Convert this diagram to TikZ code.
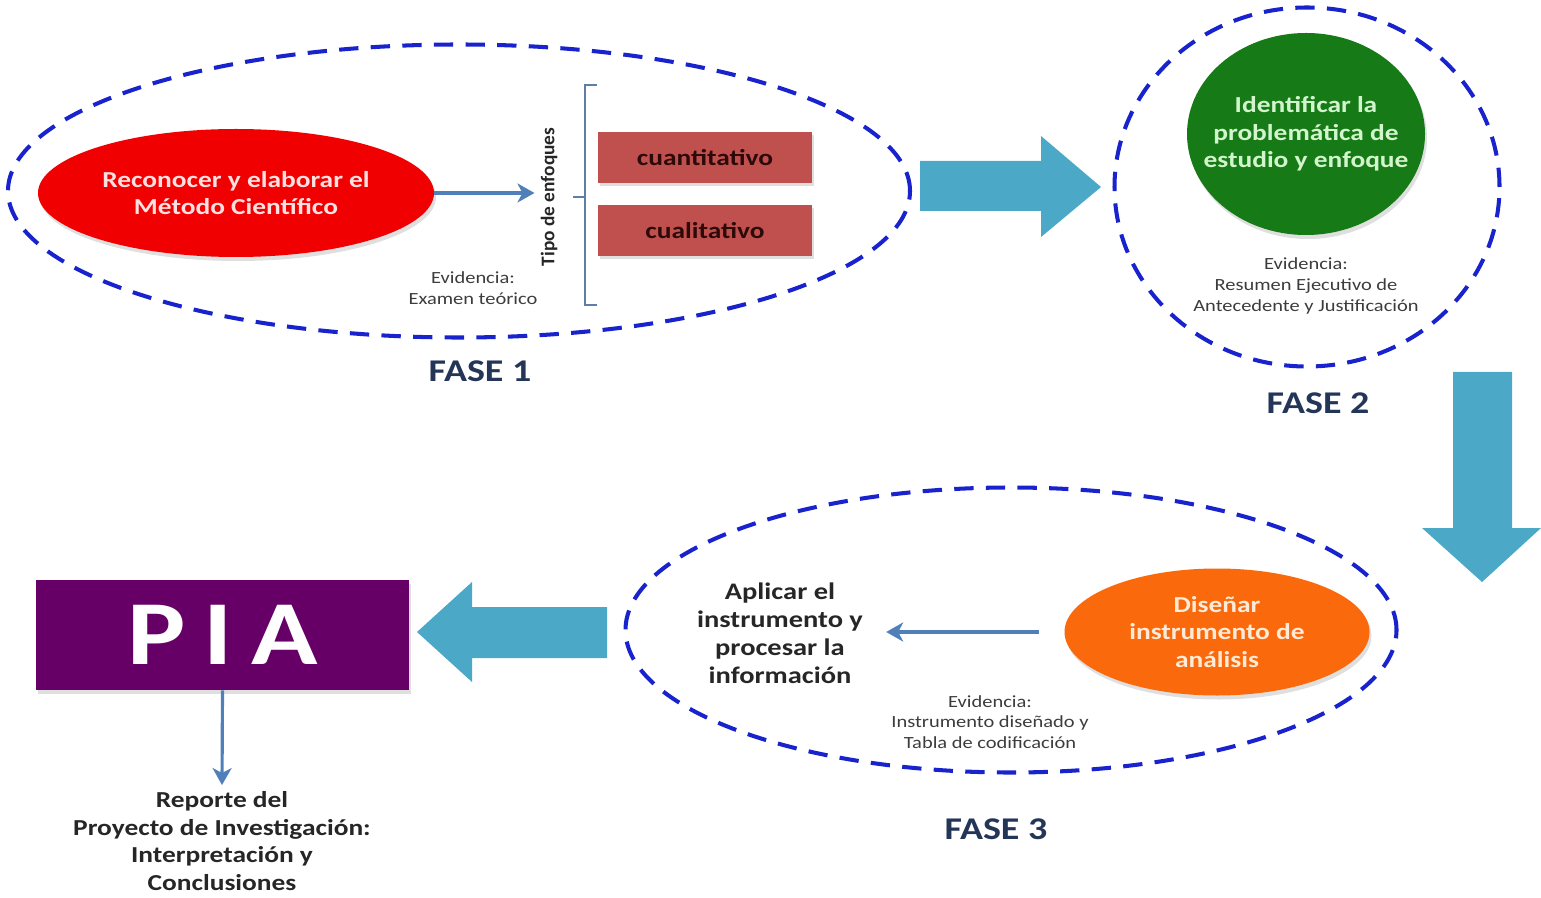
\documentclass[tikz,border=0pt]{standalone}
\usepackage{fontspec}
\setmainfont{Carlito}[FakeStretch=1.2]
\newfontfamily\uprightfont{Carlito}
\usetikzlibrary{arrows.meta, positioning, shapes.geometric, shadows}

\definecolor{faseblue}{RGB}{25,35,205}
\definecolor{blockblue}{RGB}{75,168,198}
\definecolor{linkblue}{RGB}{80,128,185}
\definecolor{bracketblue}{RGB}{95,125,165}
\definecolor{fasenavy}{RGB}{36,54,88}
\definecolor{evidgray}{RGB}{60,60,60}
\definecolor{metred}{RGB}{240,0,0}
\definecolor{probgreen}{RGB}{22,122,22}
\definecolor{disorange}{RGB}{250,105,12}
\definecolor{enfred}{RGB}{192,80,77}
\definecolor{piapurple}{RGB}{102,0,102}

\tikzset{
  phase/.style={ellipse, draw=faseblue, line width=2.3pt, dash pattern=on 11pt off 7pt, inner sep=0pt},
  oval/.style={ellipse, inner sep=0pt, align=center, font=\bfseries\fontsize{13}{15.6}\selectfont,
    drop shadow={opacity=0.25, shadow xshift=0.4mm, shadow yshift=-0.8mm}},
  enfoque/.style={rectangle, fill=enfred, text={rgb,255:red,45;green,10;blue,10}, minimum width=42.8mm, minimum height=10.2mm,
    font=\bfseries\fontsize{13}{15.6}\selectfont, drop shadow={opacity=0.25, shadow xshift=0.4mm, shadow yshift=-0.6mm}},
  evid/.style={align=center, text=evidgray, font=\fontsize{9.7}{11.7}\selectfont},
  fase/.style={text=fasenavy, font=\bfseries\fontsize{18}{20}\selectfont},
  plain/.style={align=center, text=black!85, font=\bfseries\fontsize{13.5}{16}\selectfont},
  link/.style={draw=linkblue, line width=1.8pt, -{Stealth[length=3.4mm, width=3.8mm, inset=1mm]}},
  bracket/.style={draw=bracketblue, line width=1.6pt},
  block/.style={fill=blockblue}
}

\begin{document}
\begin{tikzpicture}[x=0.2mm, y=-0.2mm]
\useasboundingbox (0,0) rectangle (1541,898);
% FASE 1
\node[phase, minimum width=180.4mm, minimum height=58.6mm] (fase1) at (459,191) {};
\node[oval, fill=metred, text=white!88!red, minimum width=79.2mm, minimum height=25.6mm] (metodo) at (236,193) {Reconocer y elaborar el\\Método Científico};
\node[rotate=90, text=black!85, font=\uprightfont\bfseries\fontsize{11}{12}\selectfont] (tipo) at (549,197) {Tipo de enfoques};
\node[enfoque] (cuanti) at (705,157.5) {cuantitativo};
\node[enfoque] (cuali) at (705,231) {cualitativo};
\draw[bracket] (597,85) -- (585,85) -- (585,305) -- (597,305);
\draw[bracket] (585,197) -- (573,197);
\draw[link] (metodo.east) -- (metodo.east -| tipo.north);
\node[evid] (ev1) at (473,288) {Evidencia:\\Examen teórico};
\node[fase] (f1) at (480,371) {FASE 1};
%
\fill[block] (920,161) -- (1041,161) -- (1041,136) -- (1101,187) -- (1041,237) -- (1041,211) -- (920,211) -- cycle;
% FASE 2
\node[phase, minimum width=77mm, minimum height=71.8mm] (fase2) at (1307,187) {};
\node[oval, inner sep=-4.6mm, fill=probgreen, text={rgb,255:red,210;green,245;blue,205}, minimum width=47.6mm, minimum height=40.4mm] (problema) at (1306,134) {Identificar la\\problemática de\\estudio y enfoque};
\node[evid] (ev2) at (1306,286) {Evidencia:\\Resumen Ejecutivo de\\Antecedente y Justificación};
\node[fase] (f2) at (1318,403) {FASE 2};
%
\fill[block] (1453,372) -- (1512,372) -- (1512,528) -- (1541,528) -- (1482,582) -- (1422,528) -- (1453,528) -- cycle;
% FASE 3
\node[phase, minimum width=154.2mm, minimum height=57mm] (fase3) at (1011,630) {};
\node[oval, fill=disorange, text={rgb,255:red,255;green,235;blue,215}, minimum width=61mm, minimum height=25.4mm] (disenar) at (1217,632) {Diseñar\\instrumento de\\análisis};
\node[plain] (aplicar) at (780,633) {Aplicar el\\instrumento y\\procesar la\\información};
\draw[link, shorten <=5mm, shorten >=3.4mm] (disenar.west) -- (disenar.west -| aplicar.east);
\node[evid] (ev3) at (990,722) {Evidencia:\\Instrumento diseñado y\\Tabla de codificación};
\node[fase] (f3) at (996,829) {FASE 3};
%
\fill[block] (607,607) -- (472,607) -- (472,582) -- (417,632) -- (472,682) -- (472,658) -- (607,658) -- cycle;
% PIA
\node[rectangle, fill=piapurple, text=white, minimum width=74.6mm, minimum height=22mm,
  font=\bfseries\fontsize{52}{60}\selectfont, drop shadow={opacity=0.25, shadow xshift=0.4mm, shadow yshift=-0.8mm}] (pia) at (222.5,635) {P\hspace{0.2em}I\hspace{0.2em}A};
\node[plain, font=\bfseries\fontsize{13}{15.8}\selectfont] (reporte) at (222,841) {Reporte del\\Proyecto de Investigación:\\Interpretación y\\Conclusiones};
\draw[link] (pia.south) -- (reporte.north);
\end{tikzpicture}
\end{document}
